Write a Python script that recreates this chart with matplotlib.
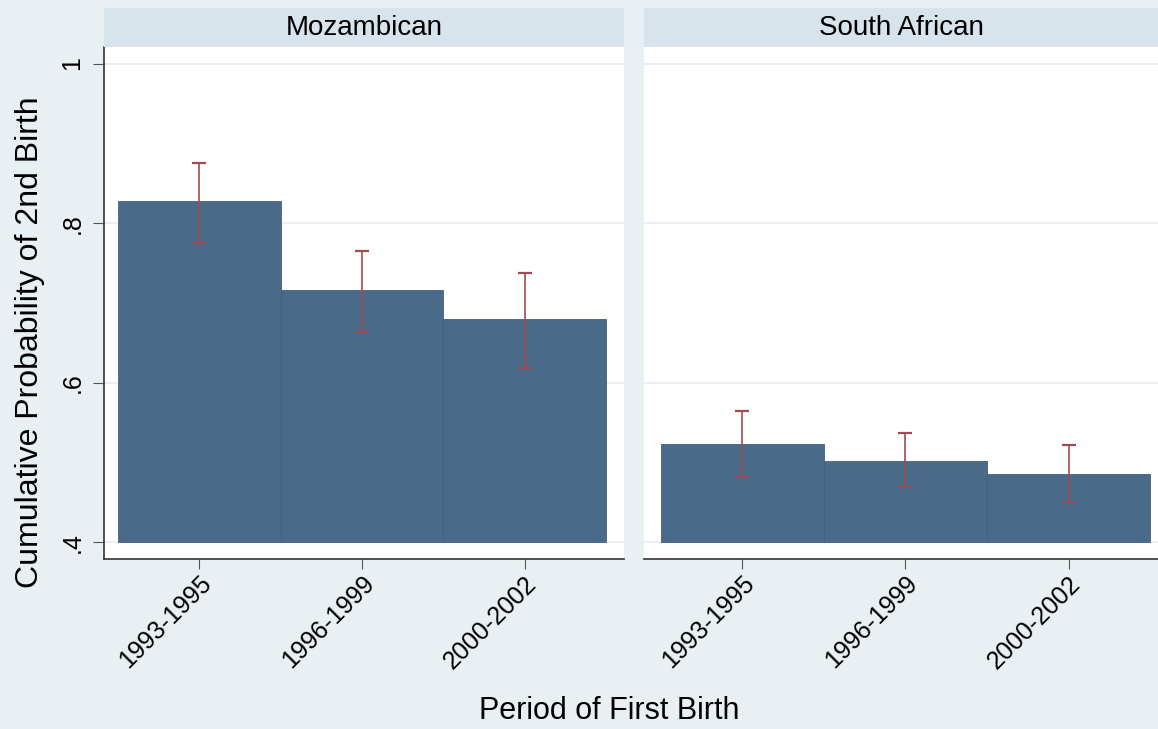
import matplotlib
matplotlib.use("Agg")
from matplotlib import pyplot as plt

plt.rcParams['font.family'] = ['Liberation Sans', 'DejaVu Sans']

# data
periods = ['1993-1995', '1996-1999', '2000-2002']
groups = ['Mozambican', 'South African']
prob_moz = [0.828, 0.716, 0.680]
lo_moz = [0.775, 0.663, 0.618]
hi_moz = [0.875, 0.765, 0.738]
prob_sa = [0.523, 0.502, 0.485]
lo_sa = [0.482, 0.469, 0.449]
hi_sa = [0.565, 0.537, 0.522]

bg = '#e9f0f3'
strip_col = '#d8e4eb'
bar_col = '#4a6a8a'
err_col = '#a04a52'
grid_col = '#e6ecef'

W, H = 1158, 729
fig = plt.figure(figsize=(W / 100, H / 100), dpi=100)
fig.patch.set_facecolor(bg)

# panel boxes in pixels: left, right, top, bottom
panels = [(104, 624, 47, 559), (644, 1158, 47, 559)]
xlims = [(-0.586, 2.611), (-0.604, 2.549)]
series = [(prob_moz, lo_moz, hi_moz), (prob_sa, lo_sa, hi_sa)]

x = list(range(len(periods)))
for i, (box, xl, (p, lo, hi)) in enumerate(zip(panels, xlims, series)):
    l, r, t, b = box
    ax = fig.add_axes([l / W, 1 - b / H, (r - l) / W, (b - t) / H])
    ax.set_facecolor('white')
    ax.bar(x, [v - 0.4 for v in p], bottom=0.4, width=1.0, color=bar_col,
           edgecolor='#42607e', linewidth=0.6, zorder=2)
    ax.errorbar(x, p, yerr=[[v - a for v, a in zip(p, lo)], [c - v for v, c in zip(p, hi)]],
                fmt='none', ecolor=err_col, elinewidth=1.2, capsize=5, capthick=1.6, zorder=3)
    ax.set_xlim(*xl)
    ax.set_ylim(0.379, 1.0207)
    ax.set_yticks([0.4, 0.6, 0.8, 1.0])
    ax.yaxis.grid(True, color=grid_col, linewidth=1.2, zorder=0)
    ax.set_axisbelow(True)
    ax.set_xticks(x)
    ax.set_xticklabels(periods, rotation=45, ha='right', va='top',
                       rotation_mode='anchor', fontsize=18)
    ax.tick_params(axis='x', length=7, color='#555555', pad=2)
    for s in ['top', 'right']:
        ax.spines[s].set_visible(False)
    ax.spines['bottom'].set_color('#333333')
    ax.spines['bottom'].set_linewidth(1.2)
    if i == 0:
        ax.set_yticklabels(['.4', '.6', '.8', '1'], rotation=90, va='center', fontsize=18)
        ax.tick_params(axis='y', length=8, color='#555555', pad=6)
        ax.spines['left'].set_color('#333333')
        ax.spines['left'].set_linewidth(1.2)
    else:
        ax.spines['left'].set_visible(False)
        ax.tick_params(axis='y', length=0, labelleft=False)

    # strip with group name
    sax = fig.add_axes([l / W, 1 - t / H, (r - l) / W, 39 / H])
    sax.set_facecolor(strip_col)
    sax.set_xticks([])
    sax.set_yticks([])
    for s in sax.spines.values():
        s.set_visible(False)
    sax.text(0.5, 0.48, groups[i], ha='center', va='center', fontsize=20,
             transform=sax.transAxes)

fig.text(30 / W, 1 - 342 / H, 'Cumulative Probability of 2nd Birth', rotation=90,
         ha='center', va='center', fontsize=23)
fig.text(609 / W, 1 - 711 / H, 'Period of First Birth', ha='center', va='center', fontsize=22)

fig.savefig('out.png', dpi=100, facecolor=bg)
